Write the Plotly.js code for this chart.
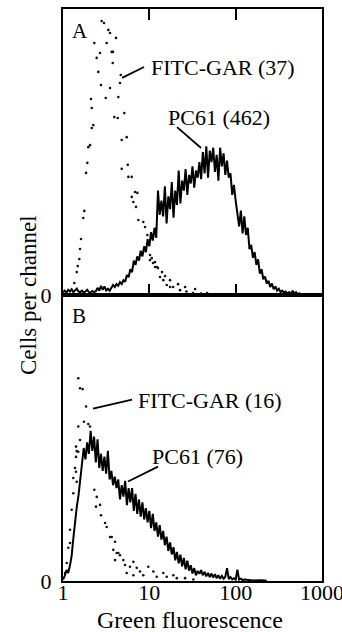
<!DOCTYPE html>
<html>
<head>
<meta charset="utf-8">
<script src="https://cdn.plot.ly/plotly-3.0.1.min.js"></script>
<style>html,body{margin:0;padding:0;background:#fff;}#chart{width:342px;height:632px;}</style>
</head>
<body>
<div id="chart"></div>
<script>
// x values are log10(green fluorescence), i.e. decades: 0 -> 1, 1 -> 10, 2 -> 100, 3 -> 1000
var tickVals = [0, 1, 2, 3];
var tickLabels = ['1', '10', '100', '1000'];

// Panel A: FITC-GAR (37), dotted histogram
var fitcA_x = [0.131,0.159,0.170,0.189,0.197,0.209,0.235,0.247,0.267,0.282,0.293,0.313,0.324,0.333,0.333,0.351,0.363,0.390,0.409,0.429,0.440,0.448,0.475,0.495,0.506,0.525,0.545,0.545,0.564,0.576,0.579,0.594,0.614,0.634,0.641,0.660,0.669,0.680,0.680,0.710,0.738,0.750,0.757,0.796,0.796,0.815,0.834,0.846,0.861,0.873,0.930,0.950,0.977,1.008,1.008,1.028,1.043,1.066,1.066,1.089,1.100,1.124,1.147,1.162,1.182,1.202,1.240,1.240,1.275,1.333,1.356,1.414,1.430,1.506,1.530,1.600,1.669];
var fitcA_y = [4.2,8.0,10.1,12.6,16.1,19.6,26.9,29.4,42.7,46.2,51.7,52.4,68.5,58.4,65.4,59.4,88.1,82.9,78.0,84.6,73.4,95.8,95.1,68.9,88.1,92.7,91.6,72.4,85.0,81.1,85.0,62.2,89.9,61.9,69.2,74.1,76.9,54.2,44.1,63.6,55.2,45.5,41.3,41.3,34.3,32.5,36.0,30.8,35.7,26.2,25.5,23.8,21.0,12.2,14.0,12.9,11.2,9.8,11.5,9.8,9.4,6.3,8.0,5.2,6.6,3.5,2.8,5.2,2.8,3.8,1.7,2.8,1.2,0.7,2.1,0.5,0.7];

// Panel A: PC61 (462), solid histogram
var pc61A_x = [0.00,0.02,0.04,0.06,0.08,0.10,0.12,0.14,0.16,0.18,0.20,0.22,0.24,0.26,0.28,0.30,0.32,0.34,0.36,0.38,0.40,0.42,0.44,0.46,0.48,0.50,0.52,0.54,0.56,0.58,0.60,0.62,0.64,0.66,0.68,0.70,0.72,0.74,0.76,0.78,0.80,0.82,0.84,0.86,0.88,0.90,0.92,0.94,0.96,0.98,1.00,1.02,1.04,1.06,1.08,1.10,1.12,1.14,1.16,1.18,1.20,1.22,1.24,1.26,1.28,1.30,1.32,1.34,1.36,1.38,1.40,1.42,1.44,1.46,1.48,1.50,1.52,1.54,1.56,1.58,1.60,1.62,1.64,1.66,1.68,1.70,1.72,1.74,1.76,1.78,1.80,1.82,1.84,1.86,1.88,1.90,1.92,1.94,1.96,1.98,2.00,2.02,2.04,2.06,2.08,2.10,2.12,2.14,2.16,2.18,2.20,2.22,2.24,2.26,2.28,2.30,2.32,2.34,2.36,2.38,2.40,2.42,2.44,2.46,2.48,2.50,2.52,2.54,2.56,2.58,2.60,2.62,2.64,2.66,2.68,2.70,2.72,2.74,2.76,2.78,2.80];
var pc61A_y = [1.0,1.5,0.8,1.8,1.2,2.0,1.0,1.6,2.2,1.2,1.0,1.5,0.8,1.2,1.8,1.0,0.9,1.4,1.0,1.3,2.5,1.5,3.2,1.8,3.0,1.6,2.2,1.5,2.8,3.5,2.8,3.8,3.2,4.5,3.8,5.2,4.6,7.0,6.2,9.0,8.0,12.0,10.5,13.5,12.0,15.5,13.5,17.0,15.0,19.5,17.0,22.0,19.0,23.5,20.0,36.5,28.0,33.0,27.5,38.0,25.0,34.5,30.0,39.5,27.0,36.5,31.5,43.5,32.0,40.0,36.5,44.0,35.0,42.0,39.0,45.0,37.5,43.5,41.0,46.5,40.5,50.0,42.5,52.0,41.0,50.5,46.5,51.5,43.0,49.0,40.0,51.5,45.0,49.5,42.0,47.0,41.0,42.5,35.0,38.5,33.0,28.5,24.0,29.5,21.5,27.5,21.0,23.5,16.0,17.5,13.0,15.0,10.5,12.5,7.5,9.0,5.5,6.5,4.0,5.0,2.8,4.0,2.0,3.0,1.5,2.2,1.0,1.5,0.8,1.2,0.5,1.0,0.4,1.5,0.5,1.0,0.3,0.6,0.2,0.3,0.1];

// Panel B: FITC-GAR (16), dotted histogram
var fitcB_x = [0.023,0.043,0.061,0.081,0.081,0.101,0.119,0.119,0.139,0.151,0.151,0.159,0.151,0.159,0.177,0.177,0.197,0.197,0.177,0.228,0.243,0.267,0.293,0.313,0.363,0.391,0.382,0.429,0.440,0.487,0.506,0.545,0.564,0.603,0.583,0.622,0.641,0.660,0.603,0.699,0.718,0.738,0.776,0.815,0.815,0.854,0.892,0.930,0.988,1.046,1.086,1.162,1.202,1.278,1.318,1.414,1.510];
var fitcB_y = [2.8,6.3,11.6,13.3,17.9,24.9,30.7,36.0,39.5,38.2,43.4,34.7,47.0,45.4,45.2,54.0,49.3,67.4,70.9,67.1,55.7,61.0,54.9,54.0,31.9,29.4,26.0,26.6,23.0,20.3,18.9,15.4,15.4,13.7,10.9,9.8,9.8,9.0,7.3,7.3,5.6,2.8,5.0,6.7,2.0,4.6,3.3,2.0,5.0,3.3,1.5,2.8,1.5,2.0,1.0,1.0,0.5];

// Panel B: PC61 (76), solid histogram
var pc61B_x = [0.00,0.02,0.04,0.06,0.08,0.10,0.12,0.14,0.16,0.18,0.20,0.22,0.24,0.26,0.28,0.30,0.32,0.34,0.36,0.38,0.40,0.42,0.44,0.46,0.48,0.50,0.52,0.54,0.56,0.58,0.60,0.62,0.64,0.66,0.68,0.70,0.72,0.74,0.76,0.78,0.80,0.82,0.84,0.86,0.88,0.90,0.92,0.94,0.96,0.98,1.00,1.02,1.04,1.06,1.08,1.10,1.12,1.14,1.16,1.18,1.20,1.22,1.24,1.26,1.28,1.30,1.32,1.34,1.36,1.38,1.40,1.42,1.44,1.46,1.48,1.50,1.52,1.54,1.56,1.58,1.60,1.62,1.64,1.66,1.68,1.70,1.72,1.74,1.76,1.78,1.80,1.82,1.84,1.86,1.88,1.90,1.92,1.94,1.96,1.98,2.00,2.02,2.04,2.06,2.08,2.10,2.14,2.20,2.30,2.36];
var pc61B_y = [0.5,1.8,3.8,2.8,5.3,8.8,15.0,21.0,26.0,30.0,35.0,41.0,46.5,42.5,48.5,44.5,52.5,45.5,50.5,41.5,49.5,39.5,44.5,38.5,43.5,37.5,45.5,35.5,38.5,33.5,36.5,32.5,35.5,28.5,33.5,29.5,35.0,26.5,32.5,27.5,32.5,24.5,30.5,23.5,28.5,22.5,27.5,21.5,25.5,20.5,24.5,18.5,23.5,17.5,20.5,15.5,19.5,14.5,17.5,12.5,15.5,10.5,13.5,9.3,11.8,7.2,10.2,6.2,9.2,5.1,8.1,4.1,7.1,3.6,5.5,2.6,4.5,2.0,3.5,2.5,3.8,2.0,3.2,1.6,2.8,1.4,2.6,1.2,2.4,1.0,2.0,0.8,1.8,0.8,1.5,4.5,0.7,1.4,0.6,1.0,0.5,4.0,0.5,0.8,0.3,0.5,0.3,0.2,0.3,0.1];

var FONT = '"Liberation Serif", "Times New Roman", serif';

var traces = [
  {x: fitcA_x, y: fitcA_y, xaxis: 'x2', yaxis: 'y2', mode: 'markers', type: 'scatter',
   marker: {color: '#111', size: 2.6}, hoverinfo: 'skip'},
  {x: pc61A_x, y: pc61A_y, xaxis: 'x2', yaxis: 'y2', mode: 'lines', type: 'scatter',
   line: {color: '#000', width: 2}, hoverinfo: 'skip'},
  {x: fitcB_x, y: fitcB_y, xaxis: 'x', yaxis: 'y', mode: 'markers', type: 'scatter',
   marker: {color: '#111', size: 2.6}, hoverinfo: 'skip'},
  {x: pc61B_x, y: pc61B_y, xaxis: 'x', yaxis: 'y', mode: 'lines', type: 'scatter',
   line: {color: '#000', width: 2}, hoverinfo: 'skip'}
];

var txt = {family: FONT, size: 22, color: '#000'};

var layout = {
  width: 342, height: 632,
  margin: {l: 63, r: 20, t: 9, b: 51},
  paper_bgcolor: '#fff', plot_bgcolor: '#fff',
  showlegend: false,
  font: txt,
  xaxis: {anchor: 'y', domain: [0, 1], range: [0, 3], showgrid: false, zeroline: false,
    showline: true, linecolor: '#000', linewidth: 2, mirror: true,
    ticks: '', tickvals: tickVals, ticktext: tickLabels, tickfont: txt,
    ticklabelstandoff: -9, ticklabeloverflow: 'allow'},
  xaxis3: {overlaying: 'x', anchor: 'y', side: 'top', range: [0, 3], showgrid: false, zeroline: false,
    showline: false, ticks: 'inside', ticklen: 10, tickwidth: 2, tickcolor: '#000',
    tickvals: [1, 2], showticklabels: false},
  xaxis2: {anchor: 'y2', domain: [0, 1], range: [0, 3], showgrid: false, zeroline: false,
    showline: true, linecolor: '#000', linewidth: 2, mirror: 'allticks',
    ticks: 'inside', ticklen: 11, tickwidth: 2, tickcolor: '#000',
    tickvals: [1, 2], showticklabels: false},
  yaxis: {anchor: 'x', domain: [0, 0.5], range: [0, 100], showgrid: false, zeroline: false,
    showline: true, linecolor: '#000', linewidth: 2, mirror: true,
    ticks: 'outside', ticklen: 5, tickcolor: 'rgba(0,0,0,0)', tickvals: [0], ticktext: ['0'], tickfont: txt},
  yaxis2: {anchor: 'x2', domain: [0.5, 1], range: [0, 100], showgrid: false, zeroline: false,
    showline: true, linecolor: '#000', linewidth: 2, mirror: true,
    ticks: 'outside', ticklen: 5, tickcolor: 'rgba(0,0,0,0)', tickvals: [0], ticktext: ['0'], tickfont: txt},
  annotations: [
    {xref: 'x2', yref: 'y2', x: 0.197, y: 92.3, text: 'A', showarrow: false, font: {family: FONT, size: 21, color: '#000'}},
    {xref: 'x', yref: 'y', x: 0.191, y: 92.6, text: 'B', showarrow: false, font: {family: FONT, size: 21, color: '#000'}},
    {xref: 'x2', yref: 'y2', x: 1.0, y: 79.7, text: 'FITC-GAR (37)', xanchor: 'left', yanchor: 'middle', showarrow: false, font: txt},
    {xref: 'x2', yref: 'y2', x: 1.19, y: 61.9, text: 'PC61 (462)', xanchor: 'left', yanchor: 'middle', showarrow: false, font: txt},
    {xref: 'x', yref: 'y', x: 0.85, y: 63.2, text: 'FITC-GAR (16)', xanchor: 'left', yanchor: 'middle', showarrow: false, font: txt},
    {xref: 'x', yref: 'y', x: 1.01, y: 43.4, text: 'PC61 (76)', xanchor: 'left', yanchor: 'middle', showarrow: false, font: txt},
    {xref: 'paper', yref: 'paper', x: -0.135, y: 0.5, text: 'Cells per channel', textangle: -90, showarrow: false, xanchor: 'center', yanchor: 'middle', font: {family: FONT, size: 23, color: '#000'}},
    {xref: 'paper', yref: 'paper', x: 0.49, y: -0.068, text: 'Green fluorescence', showarrow: false, xanchor: 'center', yanchor: 'middle', font: {family: FONT, size: 24, color: '#000'}}
  ],
  shapes: [
    {type: 'line', xref: 'x2', yref: 'y2', x0: 0.684, y0: 75.9, x1: 0.939, y1: 79.7, line: {color: '#000', width: 1.8}},
    {type: 'line', xref: 'x2', yref: 'y2', x0: 1.321, y0: 58.7, x1: 1.599, y1: 51.4, line: {color: '#000', width: 1.8}},
    {type: 'line', xref: 'x', yref: 'y', x0: 0.348, y0: 60.3, x1: 0.800, y1: 63.4, line: {color: '#000', width: 1.8}},
    {type: 'line', xref: 'x', yref: 'y', x0: 0.753, y0: 34.8, x1: 1.101, y1: 40.0, line: {color: '#000', width: 1.8}}
  ]
};

Plotly.newPlot('chart', traces, layout, {staticPlot: true, displayModeBar: false});
</script>
</body>
</html>
